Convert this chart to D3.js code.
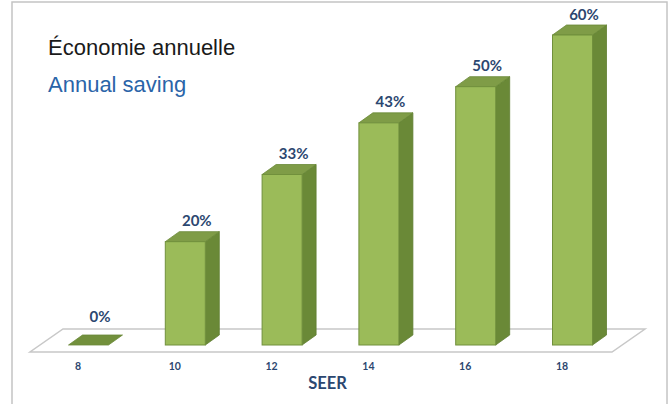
<!DOCTYPE html>
<meta charset="utf-8">
<style>
body, html { margin: 0; background: #fff; }
.title { font-family: "Liberation Sans", Arial, sans-serif; font-size: 22px; }
.lbl { font-family: Lato, "Open Sans", sans-serif; font-weight: bold; fill: #2c4770; }
</style>
<svg></svg>
<script src="https://d3js.org/d3.v7.min.js"></script>
<script>

var seer = ['8', '10', '12', '14', '16', '18'];
var saving = [0, 20, 33, 43, 50, 60];
var valueLabels = ['0%', '20%', '33%', '43%', '50%', '60%'];

var width = 672, height = 404;
var barW = 40;
var depth = {dx: 14, dy: -10};      // bar depth
var floorDepth = {dx: 33, dy: -23}; // floor depth

var svg = d3.select('svg')
  .attr('width', width)
  .attr('height', height);

var x = d3.scalePoint().domain(seer).range([78, 562]);
var y = d3.scaleLinear().domain([0, 60]).range([345, 35]);

// frame
svg.append('rect')
  .attr('x', 12).attr('y', 2)
  .attr('width', 655).attr('height', 410)
  .attr('fill', 'none')
  .attr('stroke', '#c4c4c4')
  .attr('stroke-width', 1.5);

// titles
svg.append('text').attr('class', 'title')
  .attr('x', 48).attr('y', 55)
  .attr('fill', '#1a1a1a')
  .text('Économie annuelle');
svg.append('text').attr('class', 'title')
  .attr('x', 48).attr('y', 92)
  .attr('fill', '#2a64a8')
  .text('Annual saving');

// floor
var fy = y(0) + 7;
var fl = x.range()[0] - 48, fr = x.range()[1] + 50;
svg.append('path')
  .attr('d', 'M' + fl + ',' + fy + 'L' + fr + ',' + fy +
    'L' + (fr + floorDepth.dx) + ',' + (fy + floorDepth.dy) +
    'L' + (fl + floorDepth.dx) + ',' + (fy + floorDepth.dy) + 'Z')
  .attr('fill', '#fff')
  .attr('stroke', '#c8c8c8')
  .attr('stroke-width', 1.5);

var data = seer.map(function (c, i) { return {c: c, v: saving[i], label: valueLabels[i]}; });

var bars = svg.append('g').selectAll('g')
  .data(data)
  .enter().append('g');

function pts(a) { return a.map(function (p) { return p.join(','); }).join(' '); }

// side face
bars.filter(function (d) { return d.v > 0; })
  .append('polygon')
  .attr('points', function (d) {
    var x1 = x(d.c) - 9.5 + barW, t = y(d.v), b = y(0);
    return pts([[x1, t], [x1 + depth.dx, t + depth.dy], [x1 + depth.dx, b + depth.dy], [x1, b]]);
  })
  .attr('fill', '#6a8937')
  .attr('stroke', '#5f7d31')
  .attr('stroke-width', 0.8);

// top face
bars.append('polygon')
  .attr('points', function (d) {
    var x0 = x(d.c) - 9.5, t = y(d.v);
    return pts([[x0, t], [x0 + depth.dx, t + depth.dy], [x0 + barW + depth.dx, t + depth.dy], [x0 + barW, t]]);
  })
  .attr('fill', function (d) { return d.v > 0 ? '#7f9c47' : '#72903c'; })
  .attr('stroke', '#6a8937')
  .attr('stroke-width', 0.8);

// front face
bars.filter(function (d) { return d.v > 0; })
  .append('rect')
  .attr('x', function (d) { return x(d.c) - 9.5; })
  .attr('y', function (d) { return y(d.v); })
  .attr('width', barW)
  .attr('height', function (d) { return y(0) - y(d.v); })
  .attr('fill', '#9bbb59')
  .attr('stroke', '#71903c')
  .attr('stroke-width', 1);

// value labels
bars.append('text')
  .attr('class', 'lbl')
  .attr('text-anchor', 'middle')
  .attr('font-size', 15)
  .attr('x', function (d) { return x(d.c) + 22; })
  .attr('y', function (d) { return Math.min(y(d.v) - 15.5, fy + floorDepth.dy - 7); })
  .text(function (d) { return d.label; });

// category axis labels
svg.append('g').selectAll('text')
  .data(seer)
  .enter().append('text')
  .attr('class', 'lbl')
  .attr('text-anchor', 'middle')
  .attr('font-size', 10.5)
  .attr('x', function (d) { return x(d); })
  .attr('y', 370)
  .text(function (d) { return d; });

svg.append('text')
  .attr('class', 'lbl')
  .attr('text-anchor', 'middle')
  .attr('font-size', 16.5)
  .attr('x', 327.5)
  .attr('y', 389)
  .text('SEER');

</script>
